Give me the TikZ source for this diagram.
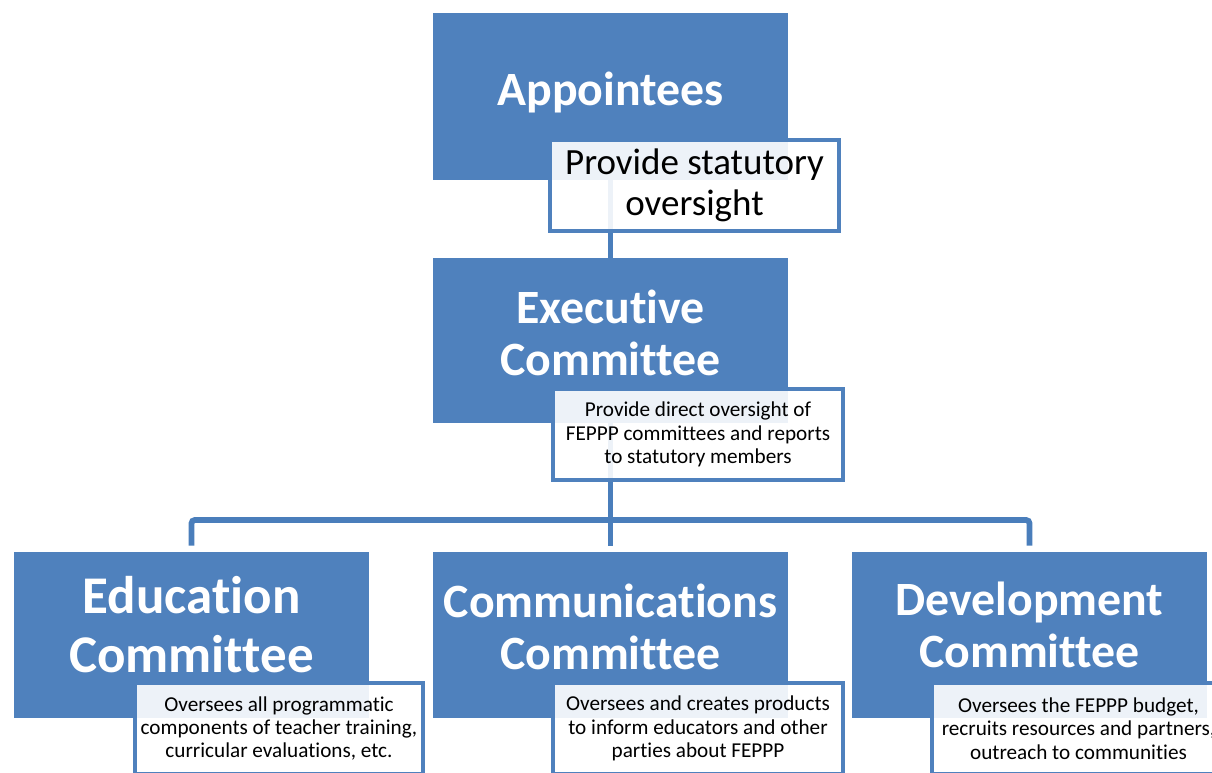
\documentclass[tikz,border=0pt]{standalone}
\usepackage{fontspec}
\setmainfont[Ligatures=NoCommon]{Carlito}
\definecolor{boxblue}{HTML}{4F81BD}
\definecolor{lineblue}{HTML}{4A7EBB}
\begin{document}
\begin{tikzpicture}[x=0.75pt,y=-0.75pt,
  mainbox/.style={rectangle, fill=boxblue, draw=none, inner sep=0pt, minimum width=266.25pt},
  maintext/.style={text=white, font=\fontsize{35.85}{39}\selectfont\bfseries, align=center, inner sep=0pt},
  bigtext/.style={text=white, font=\fontsize{39.75}{44.25}\selectfont\bfseries, align=center, inner sep=0pt},
  notebox/.style={rectangle, fill=white, fill opacity=0.9, text opacity=1, draw=boxblue, line width=3pt, inner sep=0pt, minimum width=217pt, minimum height=68.25pt, align=center, text=black},
  smallnote/.style={notebox, font=\fontsize{15.9}{17.6}\selectfont},
  conn/.style={draw=lineblue, line width=4.3pt, rounded corners=2.5pt}
]
\useasboundingbox (0,0) rectangle (1212,773);
\clip (0,0) rectangle (1212,773);

% main boxes
\node[mainbox, minimum height=125.25pt] (app) at (610.5,96.5) {};
\node[mainbox, minimum height=123.75pt] (exec) at (610.5,340.5) {};
\node[mainbox, minimum height=124.5pt] (edu) at (191.5,635) {};
\node[mainbox, minimum height=124.5pt] (comm) at (610.5,635) {};
\node[mainbox, minimum height=124.5pt] (dev) at (1029.5,635) {};

% connectors
\coordinate (bus) at (610.5,520);
\draw[conn] (app.south) -- (exec.north);
\draw[conn] (exec.south) -- ([yshift=4.5pt]comm.north);
\draw[conn] ([yshift=4.5pt]edu.north) |- (bus) -| ([yshift=4.5pt]dev.north);

% main texts
\node[maintext] (appT) at (610.5,92) {Appointees};
\node[maintext] (execT) at (610.5,332.5) {Executive\\Committee};
\node[bigtext] (eduT) at (191.5,625) {Education\\Committee};
\node[maintext] (commT) at (610.5,626.5) {Communications\\Committee};
\node[maintext] (devT) at (1029.5,625) {Development\\Committee};

% note boxes
\node[notebox, minimum width=216.75pt, font=\fontsize{27.75}{30.75}\selectfont] (appN) at (694.5,185.5) {Provide statutory\\oversight};
\node[smallnote, minimum width=217.5pt] (execN) at (698,434.5) {Provide direct oversight of\\FEPPP committees and reports\\to statutory members};
\node[smallnote, minimum width=216pt] (eduN) at (279,728.5) {Oversees all programmatic\\components of teacher training,\\curricular evaluations, etc.};
\node[smallnote, minimum width=217.5pt] (commN) at (698,728.5) {Oversees and creates products\\to inform educators and other\\parties about FEPPP};
\node[smallnote, minimum width=219.75pt] (devN) at (1078.5,728.5) {Oversees the FEPPP budget,\\recruits resources and partners,\\outreach to communities};
\end{tikzpicture}
\end{document}
